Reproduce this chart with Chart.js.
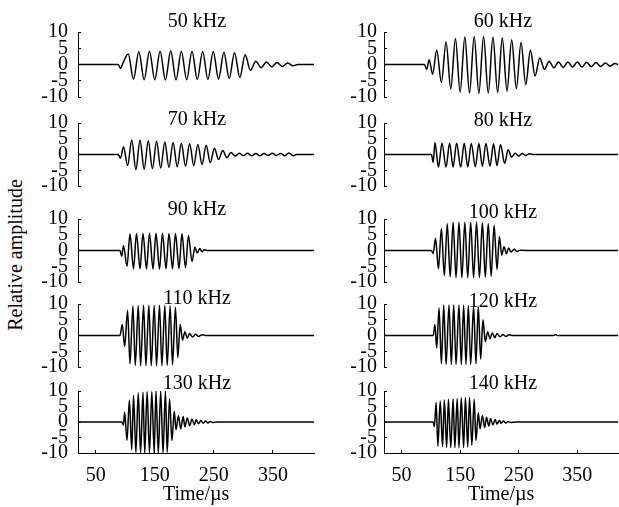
<!DOCTYPE html>
<html>
<head>
<meta charset="utf-8">
<script src="https://cdn.jsdelivr.net/npm/chart.js@4.4.1/dist/chart.umd.min.js"></script>
<style>
  html, body { margin: 0; padding: 0; background: #fff; overflow: hidden; }
  body { width: 619px; height: 507px; position: relative; font-family: 'Liberation Serif', 'Times New Roman', serif; color: #000; }
  .box { position: absolute; left: 0; top: 0; }
  .ttl { position: absolute; font-size: 20px; transform: translate(-50%, -50%); white-space: nowrap; }
  #ylab { position: absolute; left: 15px; top: 255px; font-size: 20px; white-space: nowrap; transform: translate(-50%, -50%) rotate(-90deg); }
</style>
</head>
<body>
<div id="ylab">Relative amplitude</div>
<script>
// axis ranges / ticks
var xMin = 20, xMax = 420;
var xTicks = [50, 150, 250, 350];
var yTicks = [-10, -5, 0, 5, 10];

// waveforms: [time (us), amplitude] at peaks/troughs
var w50 = [[20,0],[88,0],[92,-1.2],[96,0.4],[105,3.2],[114,-4.5],[123,4.0],[132,-4.7],[141,4.1],[150,-4.7],[159,4.1],[168,-4.8],[177,4.2],[186,-4.7],[195,4.1],[204,-4.7],[213,4.1],[222,-4.6],[231,4.0],[240,-4.6],[249,4.0],[258,-4.5],[267,3.8],[276,-4.3],[285,3.6],[294,-4.0],[303,3.0],[312,-1.8],[321,1.0],[330,-1.0],[339,0.8],[348,-0.7],[357,0.6],[366,-0.6],[375,0.5],[384,-0.4],[392,0],[420,0]];
var w60 = [[20,0],[89,0],[93,-1.5],[97,1.5],[103,-3.0],[110,4.4],[118,-5.5],[126,6.9],[134,-7.5],[142,8.0],[150,-8.5],[158,8.5],[166,-8.8],[174,8.6],[182,-8.9],[190,8.6],[198,-8.8],[206,8.5],[214,-8.6],[222,8.2],[230,-8.2],[238,7.6],[246,-7.4],[254,6.8],[262,-6.2],[270,4.4],[278,-3.5],[286,2.0],[294,-1.5],[302,1.0],[310,-1.0],[318,0.8],[326,-0.9],[334,0.8],[342,-0.8],[350,0.8],[358,-0.8],[366,0.7],[374,-0.7],[382,0.6],[390,-0.6],[398,0.5],[406,-0.5],[414,0.3],[420,0]];
var w70 = [[20,0],[88,0],[92,-1.2],[97,2.5],[104,-3.5],[111,4.6],[118,-4.8],[125,4.6],[132,-4.7],[139,4.4],[146,-4.5],[153,4.2],[160,-4.3],[167,4.0],[174,-4.1],[181,3.8],[188,-3.9],[195,3.6],[202,-3.7],[209,3.4],[216,-3.5],[223,3.2],[230,-3.2],[237,2.9],[244,-2.6],[251,2.0],[258,-1.6],[265,1.3],[272,-1.0],[279,0.6],[286,-0.5],[293,0.4],[300,-0.4],[307,0.4],[314,-0.4],[321,0.3],[328,-0.4],[335,0.3],[342,-0.3],[349,0.4],[356,-0.3],[363,0.3],[370,-0.4],[377,0.5],[384,-0.4],[390,0],[420,0]];
var w80 = [[20,0],[101,0],[104,-2.5],[107,3.8],[113,-4.0],[119,3.6],[126,-4.0],[132,3.6],[138,-4.0],[144,3.6],[151,-4.0],[157,3.6],[163,-4.0],[169,3.5],[176,-3.9],[182,3.5],[188,-3.8],[194,3.5],[201,-3.7],[207,3.4],[213,-3.5],[219,3.2],[226,-2.8],[232,1.5],[238,-0.8],[244,0.4],[250,-0.5],[256,0.3],[262,-0.3],[268,0.2],[276,0],[420,0]];
var w90 = [[20,0],[91,0],[94,-1.8],[97,1.5],[103,-5.0],[108,5.2],[114,-5.8],[119,5.4],[125,-5.8],[130,5.4],[136,-5.9],[141,5.5],[147,-5.9],[152,5.5],[158,-5.9],[163,5.5],[169,-5.8],[174,5.4],[180,-5.8],[185,5.4],[191,-5.7],[196,5.3],[202,-5.5],[207,4.8],[213,-3.5],[218,1.0],[222,-0.8],[226,0.6],[230,-0.4],[234,0.2],[240,0],[420,0]];
var w100 = [[20,0],[101,0],[104,-1.0],[108,3.9],[113,-5.8],[118,7.0],[123,-8.0],[128,8.5],[133,-8.4],[138,9.0],[143,-8.6],[148,9.0],[153,-8.6],[158,9.0],[163,-8.6],[168,9.0],[173,-8.6],[178,9.0],[183,-8.6],[188,8.9],[193,-8.5],[198,8.6],[203,-8.2],[208,8.0],[213,-6.0],[217,4.4],[221,-1.5],[225,1.2],[229,-1.0],[233,0.8],[237,-0.5],[242,0.4],[247,-0.3],[252,0.1],[260,0],[420,0]];
var w110 = [[20,0],[91,0],[95,3.5],[99,-3.5],[104,8.0],[108,-9.0],[113,9.4],[117,-9.5],[122,9.5],[126,-9.6],[131,9.6],[135,-9.6],[140,9.6],[144,-9.6],[149,9.6],[153,-9.6],[158,9.6],[162,-9.6],[167,9.5],[171,-9.5],[176,9.4],[180,-9.3],[185,9.0],[189,-7.0],[193,3.5],[197,-1.5],[201,1.2],[205,-0.8],[209,0.6],[214,-0.5],[219,0.4],[224,-0.3],[230,0.2],[238,0],[420,0]];
var w120 = [[20,0],[104,0],[107,3.5],[110,-4.0],[114,8.7],[118,-9.0],[122,9.7],[126,-9.2],[131,9.7],[135,-9.2],[139,9.7],[143,-9.2],[148,9.7],[152,-9.2],[156,9.6],[160,-9.2],[164,9.5],[168,-9.2],[173,9.4],[177,-9.0],[181,9.2],[185,-7.5],[189,5.0],[193,-2.0],[197,1.2],[201,-1.0],[205,0.8],[209,-0.7],[213,0.6],[218,-0.4],[223,0.3],[228,-0.3],[234,0.2],[240,0],[310,0],[313,0.3],[316,0],[420,0]];
var w130 = [[20,0],[94,0],[97,-1.0],[99,3.2],[103,-5.9],[107,7.0],[111,-9.0],[114,8.6],[118,-9.8],[122,9.4],[126,-10],[130,9.6],[133,-10],[137,9.8],[141,-10],[145,9.8],[149,-10],[152,10],[156,-10],[160,10],[164,-10],[168,10],[171,-9.8],[175,7.5],[179,-6.0],[183,3.5],[186,-2.5],[190,2.0],[194,-2.2],[198,1.8],[201,-1.6],[205,1.3],[209,-1.2],[213,1.0],[217,-0.9],[220,0.7],[224,-0.6],[228,0.5],[232,-0.4],[236,0.3],[240,-0.3],[244,0.2],[248,-0.2],[256,0],[420,0]];
var w140 = [[20,0],[104,0],[106,-1.5],[109,6.3],[112,-7.8],[116,6.8],[120,-8.0],[123,7.1],[127,-8.2],[130,7.3],[134,-8.3],[138,7.5],[141,-8.3],[145,7.6],[148,-8.3],[152,7.8],[156,-8.2],[159,7.9],[163,-8.0],[166,7.9],[170,-7.5],[174,7.3],[177,-6.0],[181,3.0],[184,-2.2],[188,2.0],[192,-1.8],[195,1.5],[199,-1.3],[202,1.1],[206,-0.9],[210,0.8],[213,-0.7],[217,0.5],[220,-0.4],[224,0.3],[228,-0.3],[232,0.2],[236,-0.2],[245,0],[420,0]];

var titles = ['50 kHz', '60 kHz', '70 kHz', '80 kHz', '90 kHz', '100 kHz', '110 kHz', '120 kHz', '130 kHz', '140 kHz'];
var waves = [w50, w60, w70, w80, w90, w100, w110, w120, w130, w140];

// layout (pixels) - plot areas and title centres
var colX = [[78, 314], [384, 618]];
var rowY = [[32, 97], [123, 186], [219, 282], [304, 367], [391, 453]];
var titleX = [197, 503];
var titleY = [[20, 20], [118, 119], [208, 211], [297, 300], [382, 382]];

Chart.defaults.font.family = "'Liberation Serif', 'Times New Roman', serif";
Chart.defaults.color = '#000';

function makePanel(idx) {
  var col = idx % 2, row = Math.floor(idx / 2);
  var bottom = row === 4;
  var area = { l: colX[col][0], r: colX[col][1], t: rowY[row][0], b: rowY[row][1] };

  var wrap = document.createElement('div');
  wrap.className = 'box';
  var cv = document.createElement('canvas');
  cv.width = 300; cv.height = 120;
  wrap.appendChild(cv);
  document.body.appendChild(wrap);

  var pts = waves[idx].map(function(p) { return { x: p[0], y: p[1] }; });

  var chart = new Chart(cv.getContext('2d'), {
    type: 'line',
    data: {
      datasets: [{
        data: pts,
        borderColor: '#000',
        borderWidth: 1.5,
        pointRadius: 0,
        fill: false,
        cubicInterpolationMode: 'monotone'
      }]
    },
    options: {
      responsive: false,
      maintainAspectRatio: false,
      animation: false,
      devicePixelRatio: 1,
      layout: { padding: 0 },
      plugins: { legend: { display: false }, tooltip: { enabled: false } },
      scales: {
        x: {
          type: 'linear',
          min: xMin, max: xMax,
          display: bottom,
          afterBuildTicks: function(s) { s.ticks = xTicks.map(function(v) { return { value: v }; }); },
          grid: { drawOnChartArea: false, tickLength: -3, color: '#000' },
          border: { display: true, color: '#000', width: 1 },
          ticks: { color: '#000', font: { size: 20 }, padding: 14, maxRotation: 0, autoSkip: false },
          title: { display: bottom, text: 'Time/\u00b5s', color: '#000', font: { size: 20 }, padding: { top: -19, bottom: 0 } }
        },
        y: {
          min: -10, max: 10,
          afterBuildTicks: function(s) { s.ticks = yTicks.map(function(v) { return { value: v }; }); },
          afterFit: function(s) { s.width = 48; },
          grid: { drawOnChartArea: false, tickLength: -3, color: '#000' },
          border: { display: true, color: '#000', width: 1 },
          ticks: { color: '#000', font: { size: 20 }, padding: col ? 10 : 13, autoSkip: false }
        }
      }
    }
  });

  // size the canvas so the plot area lands exactly on the target box
  for (var k = 0; k < 3; k++) {
    var a = chart.chartArea;
    var w = chart.width + (area.r - area.l) - (a.right - a.left);
    var h = chart.height + (area.b - area.t) - (a.bottom - a.top);
    chart.resize(Math.round(w), Math.round(h));
  }
  var ca = chart.chartArea;
  wrap.style.left = (area.l - ca.left) + 'px';
  wrap.style.top = (area.t - ca.top) + 'px';

  var t = document.createElement('div');
  t.className = 'ttl';
  t.textContent = titles[idx];
  t.style.left = titleX[col] + 'px';
  t.style.top = titleY[row][col] + 'px';
  document.body.appendChild(t);
}

for (var i = 0; i < waves.length; i++) makePanel(i);
</script>
</body>
</html>
